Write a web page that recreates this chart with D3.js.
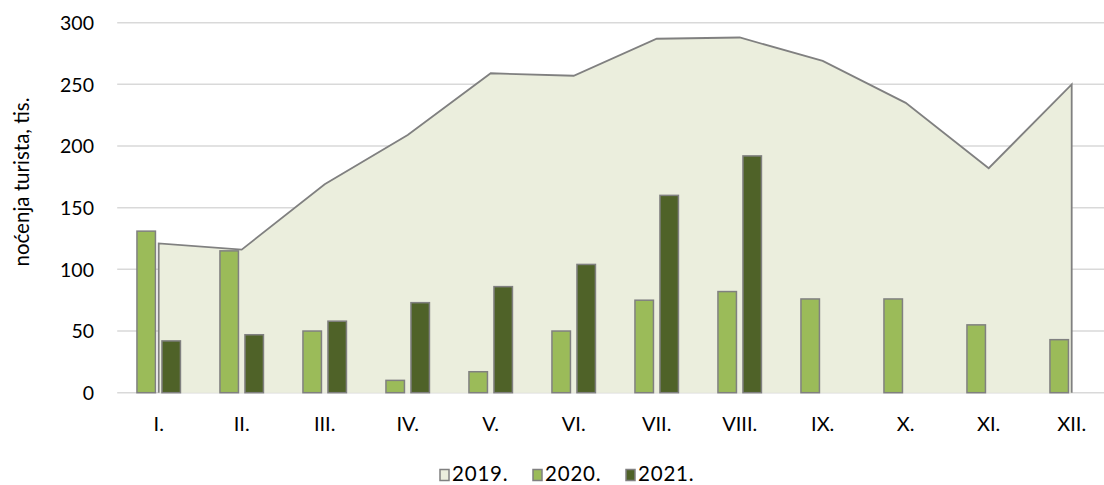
<!DOCTYPE html>
<html>
<head>
<meta charset="utf-8">
<script src="https://cdn.jsdelivr.net/npm/d3@7"></script>
<style>
  html, body { margin: 0; padding: 0; background: #ffffff; }
  svg { display: block; }
  text { font-family: Lato, "Open Sans", sans-serif; fill: #000; }
</style>
</head>
<body>
<div id="chart"></div>
<script>
const months = ["I.", "II.", "III.", "IV.", "V.", "VI.", "VII.", "VIII.", "IX.", "X.", "XI.", "XII."];
const values2019 = [121, 116, 169, 209, 259, 257, 287, 288, 269, 235, 182, 250];
const values2020 = [131, 115, 50, 10, 17, 50, 75, 82, 76, 76, 55, 43];
const values2021 = [42, 47, 58, 73, 86, 104, 160, 192, null, null, null, null];
const yTicks = [0, 50, 100, 150, 200, 250, 300];
const seriesNames = ["2019.", "2020.", "2021."];
const yTitle = "noćenja turista, tis.";

const W = 1104, H = 485;
const colors = { a2019: "#ebeedd", b2020: "#9bbb59", b2021: "#4f6228", stroke: "#808080", grid: "#d9d9d9" };

const svg = d3.select("#chart").append("svg").attr("width", W).attr("height", H);

const x = d3.scaleBand().domain(months).range([117.2, 1113.2]).padding(0);
const y = d3.scaleLinear().domain([0, 300]).range([392.7, 22.7]);
const cx = m => x(m) + x.bandwidth() / 2;

// gridlines
svg.append("g").selectAll("line").data(yTicks).join("line")
  .attr("x1", 117.2).attr("x2", 1113.2)
  .attr("y1", d => y(d)).attr("y2", d => y(d))
  .attr("stroke", colors.grid).attr("stroke-width", 1.5);

// area 2019
const area = d3.area().x((d, i) => cx(months[i])).y0(y(0)).y1(d => y(d));
svg.append("path").datum(values2019).attr("d", area).attr("fill", colors.a2019);
const outline = [[cx(months[0]), y(0)]]
  .concat(values2019.map((v, i) => [cx(months[i]), y(v)]))
  .concat([[cx(months[11]), y(0)]]);
svg.append("path").attr("d", d3.line()(outline))
  .attr("fill", "none").attr("stroke", colors.stroke).attr("stroke-width", 1.8);

// bars
const barW = 18.5;
const g = svg.append("g");
g.selectAll("rect.b20").data(values2020).join("rect").attr("class", "b20")
  .attr("x", (d, i) => cx(months[i]) - 2.5 - barW - 0.75)
  .attr("width", barW)
  .attr("y", d => y(d)).attr("height", d => y(0) - y(d))
  .attr("fill", colors.b2020).attr("stroke", colors.stroke).attr("stroke-width", 1.5);
g.selectAll("rect.b21").data(values2021.map((v, i) => ({ v, i })).filter(d => d.v != null)).join("rect").attr("class", "b21")
  .attr("x", d => cx(months[d.i]) + 2.5 + 0.75)
  .attr("width", barW)
  .attr("y", d => y(d.v)).attr("height", d => y(0) - y(d.v))
  .attr("fill", colors.b2021).attr("stroke", colors.stroke).attr("stroke-width", 1.5);

// y labels
svg.append("g").selectAll("text").data(yTicks).join("text")
  .attr("x", 94).attr("y", d => y(d) + 7.3)
  .attr("text-anchor", "end").style("font-size", "19.5px").text(d => d);

// x labels
svg.append("g").selectAll("text").data(months).join("text")
  .attr("x", d => cx(d)).attr("y", 430.5)
  .attr("text-anchor", "middle").style("font-size", "20px").text(d => d);

// y title
svg.append("text").attr("transform", "translate(29,182) rotate(-90)")
  .attr("text-anchor", "middle").style("font-size", "20.5px").text(yTitle);

// legend
const legendFill = [colors.a2019, colors.b2020, colors.b2021];
const lg = svg.append("g").selectAll("g").data(seriesNames).join("g")
  .attr("transform", (d, i) => `translate(${440 + i * 93},0)`);
lg.append("rect").attr("x", 0).attr("y", 469.5).attr("width", 9).attr("height", 11)
  .attr("fill", (d, i) => legendFill[i]).attr("stroke", colors.stroke).attr("stroke-width", 1.5);
lg.append("text").attr("x", 12).attr("y", 480.5).style("font-size", "20.5px")
  .style("letter-spacing", "0.8px").text(d => d);
</script>
</body>
</html>
